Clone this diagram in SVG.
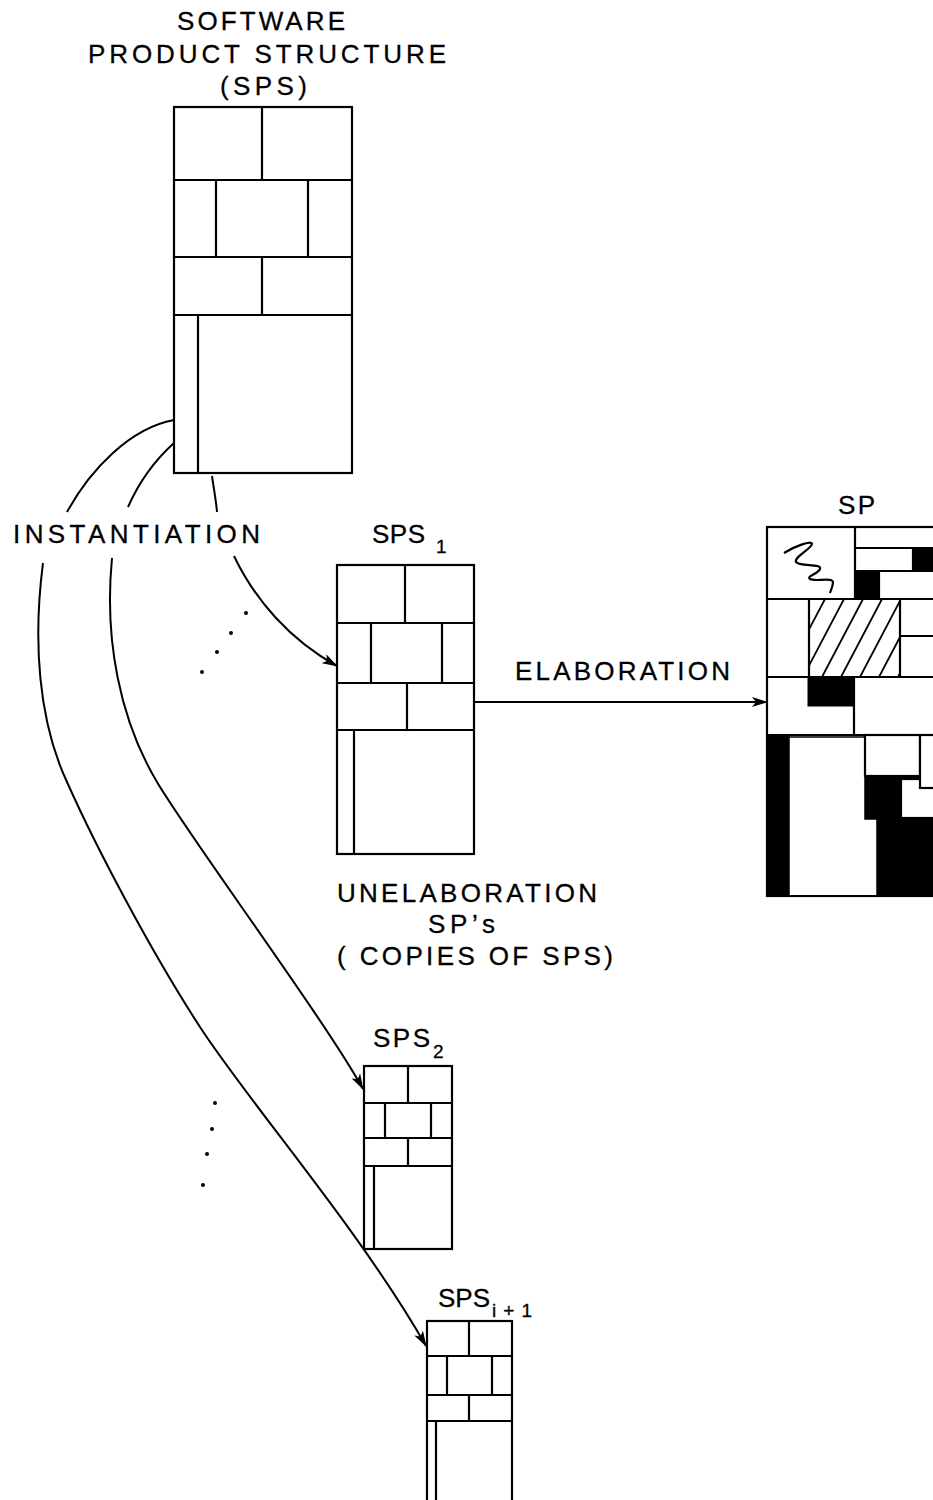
<svg xmlns="http://www.w3.org/2000/svg" width="933" height="1500" viewBox="0 0 933 1500">
<style>
.blk{fill:#fff;stroke:#000;stroke-width:2.2}
.ln{fill:none;stroke:#000;stroke-width:2.2}
.blkfill{fill:#000;stroke:#000;stroke-width:1}
.con{fill:none;stroke:#000;stroke-width:2}
.hatch{stroke:#000;stroke-width:1.8}
text{font-family:"Liberation Sans","DejaVu Sans",sans-serif;font-size:26px;fill:#000;stroke:#000;stroke-width:0.3}
.sub{font-size:19px}
</style>
<defs>
<marker id="ah" viewBox="0 0 16 10" markerWidth="16" markerHeight="10" refX="15" refY="5" orient="auto" markerUnits="userSpaceOnUse">
<path d="M0,0 L16,5 L0,10 L4,5 z" fill="#000"/>
</marker>
<clipPath id="hclip"><rect x="809" y="599" width="91" height="78"/></clipPath>
</defs>

<g id="labels">
<text x="177" y="30" textLength="168" lengthAdjust="spacing">SOFTWARE</text>
<text x="88" y="63" textLength="358" lengthAdjust="spacing">PRODUCT STRUCTURE</text>
<text x="220" y="95" textLength="87" lengthAdjust="spacing">(SPS)</text>
<text x="13" y="543" textLength="247" lengthAdjust="spacing">INSTANTIATION</text>
<text x="515" y="680" textLength="215" lengthAdjust="spacing">ELABORATION</text>
<text x="337" y="902" textLength="260" lengthAdjust="spacing">UNELABORATION</text>
<text x="428" y="933" textLength="67" lengthAdjust="spacing">SP’s</text>
<text x="337" y="965" textLength="276" lengthAdjust="spacing">( COPIES OF SPS)</text>
</g>

<g id="sps">
<rect class="blk" x="174" y="107" width="178" height="366"/>
<path class="ln" d="M174,180H352M174,257H352M174,315H352M262,107V180M216,180V257M308,180V257M262,257V315M198,315V473"/>
</g>

<g id="sps1">
<text x="372" y="543" textLength="53" lengthAdjust="spacing">SPS</text>
<text class="sub" x="436" y="553">1</text>
<rect class="blk" x="337" y="565" width="137" height="289"/>
<path class="ln" d="M337,623H474M337,683H474M337,730H474M405,565V623M371,623V683M442,623V683M407,683V730M354,730V854"/>
</g>

<g id="sps2">
<text x="373" y="1047" textLength="57" lengthAdjust="spacing">SPS</text>
<text class="sub" x="433" y="1058">2</text>
<rect class="blk" x="364" y="1066" width="88" height="183"/>
<path class="ln" d="M364,1103H452M364,1138H452M364,1166H452M408,1066V1103M385,1103V1138M431,1103V1138M408,1138V1166M374,1166V1249"/>
</g>

<g id="spsi1">
<text x="438" y="1307" textLength="52" lengthAdjust="spacing">SPS</text>
<text class="sub" x="492" y="1317" textLength="40" lengthAdjust="spacing">i+1</text>
<rect class="blk" x="427" y="1321" width="85" height="200"/>
<path class="ln" d="M427,1356H512M427,1395H512M427,1421H512M469,1321V1356M447,1356V1395M492,1356V1395M469,1395V1421M436,1421V1510"/>
</g>

<g id="sp">
<text x="838" y="514" textLength="37" lengthAdjust="spacing">SP</text>
<rect class="blk" x="767" y="527" width="180" height="369"/>
<rect class="blkfill" x="913" y="548" width="30" height="23"/>
<rect class="blkfill" x="855" y="571" width="24" height="28"/>
<path class="ln" d="M855,527V599M855,548H945M855,571H945M913,548V571M879,571V599"/>
<path class="ln" stroke-width="2.4" d="M784,553 C795,546 812,540 812,544 C810,550 794,557 796,562 C800,567 822,563 820,569 C818,574 806,576 810,579 C815,582 832,577 833,582 C833,586 831,590 830,593"/>
<g clip-path="url(#hclip)">
<path class="hatch" d="M765,677L806,599M784,677L825,599M803,677L844,599M822,677L863,599M841,677L882,599M860,677L901,599M879,677L920,599M898,677L939,599"/>
</g>
<path class="ln" d="M767,599H945M809,599V677M900,599V677M900,636H945"/>
<rect class="blkfill" x="808" y="677" width="46" height="29"/>
<path class="ln" d="M767,677H945M854,677V735"/>
<rect class="blkfill" x="767" y="735" width="22" height="161"/>
<rect class="blkfill" x="865" y="776" width="80" height="120"/>
<path d="M789,737H865V819H877V896H789Z" fill="#fff" stroke="#000" stroke-width="1.5"/>
<rect class="blk" x="901" y="779" width="40" height="39"/>
<rect class="blk" x="865" y="735" width="55" height="41"/>
<rect class="blk" x="920" y="735" width="25" height="53"/>
<path class="ln" d="M767,735H945M767,896H945"/>
</g>

<g id="connectors">
<path class="con" d="M174,420 C130,428 90,470 67,512"/>
<path class="con" marker-end="url(#ah)" d="M43,563 C33,640 38,720 67,782 C95,845 150,950 200,1027 S360,1230 426,1346"/>
<path class="con" d="M174,443 C155,460 140,480 128,507"/>
<path class="con" marker-end="url(#ah)" d="M112,558 C104,640 120,720 157,782 C190,838 325,1020 363,1089"/>
<path class="con" d="M212,476 C214,490 216,500 217,512"/>
<path class="con" marker-end="url(#ah)" d="M234,556 C255,600 290,640 337,666"/>
<path class="con" marker-end="url(#ah)" d="M474,702 H767"/>
<g fill="#000">
<circle cx="246" cy="613" r="2"/><circle cx="231" cy="633" r="2"/><circle cx="217" cy="652" r="2"/><circle cx="202" cy="672" r="2"/>
<circle cx="215" cy="1103" r="2"/><circle cx="212" cy="1129" r="2"/><circle cx="207" cy="1154" r="2"/><circle cx="203" cy="1185" r="2"/>
</g>
</g>
</svg>
